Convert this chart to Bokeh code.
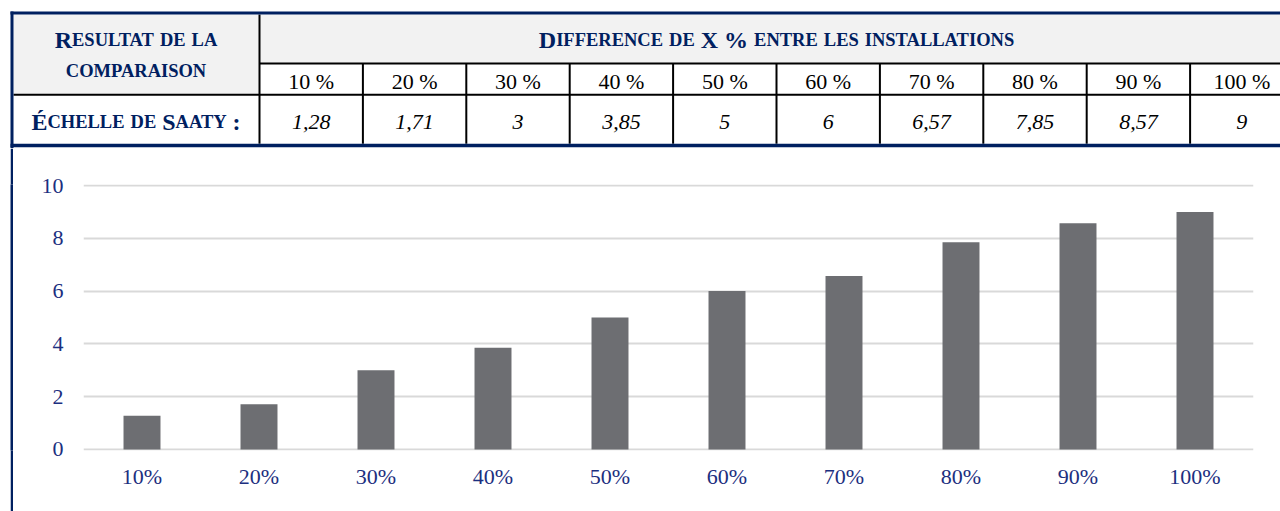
from bokeh.plotting import figure
from bokeh.models import ColumnDataSource, Range1d, FactorRange, FixedTicker, Spacer
from bokeh.layouts import column, row
from bokeh.embed import file_html
from bokeh.resources import INLINE
from bokeh.core.properties import value, field

# ---------------- data ----------------
left_header_lines = ["Resultat de la", "comparaison"]
top_header = "Difference de X % entre les installations"
row_label = "Échelle de Saaty :"
diff_labels = ["10 %", "20 %", "30 %", "40 %", "50 %", "60 %", "70 %", "80 %", "90 %", "100 %"]
saaty_values = [1.28, 1.71, 3, 3.85, 5, 6, 6.57, 7.85, 8.57, 9]
chart_categories = ["10%", "20%", "30%", "40%", "50%", "60%", "70%", "80%", "90%", "100%"]
y_ticks = [0, 2, 4, 6, 8, 10]

# ---------------- style ----------------
NAVY = "#002060"
LABEL = "#1c2f80"
HEAD_BG = "#f2f2f2"
BAR = "#6d6e72"
GRID = "#d9d9d9"
SERIF = "Liberation Serif"
TXT_SHIFT = 7.5   # empirical baseline correction

# Times Bold advance widths (per 1000 em) and the kerning pairs the browser applies
TB = {" ": 250, "%": 1000, ":": 333, "A": 722, "C": 722, "D": 722, "E": 667, "É": 667,
      "F": 611, "H": 778, "I": 389, "L": 667, "M": 944, "N": 722, "O": 778, "P": 611,
      "R": 722, "S": 556, "T": 667, "U": 722, "X": 722, "Y": 722}
KERN = {"AT": -74, "TA": -74, "LT": -92, "PA": -74}


def run_width(t, s):
    w = sum(TB.get(c, 600) for c in t)
    w += sum(KERN.get(t[i:i + 2], 0) for i in range(len(t) - 1))
    return w * s / 1000.0


def small_caps_runs(label, cx, base, big=24.0, small=18.5):
    runs = []
    for ch in label:
        sz = small if ch.islower() else big
        t = ch.upper()
        if runs and runs[-1][1] == sz:
            runs[-1][0] += t
        else:
            runs.append([t, sz])
    widths = [run_width(t, s) for t, s in runs]
    x = cx - sum(widths) / 2.0
    out = []
    for (t, s), w in zip(runs, widths):
        lead = len(t) - len(t.lstrip(" "))
        core = t.strip(" ")
        if core:
            out.append((x + lead * TB[" "] * s / 1000.0, base - TXT_SHIFT, core, "%.1fpx" % s))
        x += w
    return out


# ---------------- table layout (page pixel coordinates) ----------------
PX0, PX1 = 0, 1280
TY0, TY1 = 0, 148
BORDER_L = (10, 13)
BORDER_T = (11, 14)
BORDER_B = (143.3, 146.7)
COL1_R = 259
COLW = 103.4
ROW_A = 63.0
ROW_B = 94.3

n = len(diff_labels)
col_lefts = [COL1_R + i * COLW for i in range(n)]
col_centers = [c + COLW / 2 for c in col_lefts]

pA = figure(width=PX1 - PX0, height=TY1 - TY0, x_range=Range1d(PX0, PX1), y_range=Range1d(TY1, TY0),
            output_backend="svg", toolbar_location=None, x_axis_type=None, y_axis_type=None,
            min_border=0, outline_line_color=None)
pA.grid.visible = False

# grey header backgrounds
pA.quad(left=[BORDER_L[1], COL1_R], right=[COL1_R, PX1], top=[BORDER_T[1], BORDER_T[1]],
        bottom=[ROW_B, ROW_A], fill_color=HEAD_BG, line_color=None)

# black inner rules
seg_x0 = [COL1_R, COL1_R, BORDER_L[1]] + col_lefts[1:]
seg_x1 = [COL1_R, PX1, PX1] + col_lefts[1:]
seg_y0 = [BORDER_T[1], ROW_A, ROW_B] + [ROW_A] * (n - 1)
seg_y1 = [BORDER_B[0], ROW_A, ROW_B] + [BORDER_B[0]] * (n - 1)
pA.segment(x0=seg_x0, y0=seg_y0, x1=seg_x1, y1=seg_y1, line_color="black", line_width=2)

# navy outer borders
pA.quad(left=[BORDER_L[0], BORDER_L[0], BORDER_L[0]], right=[PX1, PX1, BORDER_L[1]],
        top=[BORDER_T[0], BORDER_B[0], BORDER_T[0]], bottom=[BORDER_T[1], BORDER_B[1], TY1],
        fill_color=NAVY, line_color=None)

# header texts (small caps emulation)
col1_cx = (BORDER_L[0] + COL1_R) / 2 + 1
runs = []
runs += small_caps_runs(left_header_lines[0], col1_cx, 46.5)
runs += small_caps_runs(left_header_lines[1], col1_cx, 77.5)
runs += small_caps_runs(row_label, col1_cx, 129.0)
runs += small_caps_runs(top_header, COL1_R + n * COLW / 2, 46.5)
hsrc = ColumnDataSource(dict(x=[r[0] for r in runs], y=[r[1] for r in runs],
                             text=[r[2] for r in runs], size=[r[3] for r in runs]))
pA.text(x="x", y="y", text="text", source=hsrc, text_font=value(SERIF), text_font_size=field("size"),
        text_font_style="bold", text_color=NAVY, text_align="left", text_baseline="alphabetic")

# percentage row
pA.text(x=col_centers, y=[88.3 - TXT_SHIFT] * n, text=diff_labels, text_font=value(SERIF),
        text_font_size="22px", text_color="black", text_align="center", text_baseline="alphabetic")

# Saaty values row (italic, comma decimal)
value_texts = [("%g" % v).replace(".", ",") for v in saaty_values]
pA.text(x=col_centers, y=[129.0 - TXT_SHIFT] * n, text=value_texts, text_font=value(SERIF),
        text_font_size="22px", text_font_style="italic", text_color="black", text_align="center",
        text_baseline="alphabetic")

# ---------------- left border strip beside chart ----------------
CH = 511 - TY1
gap = Spacer(width=BORDER_L[0] - PX0, height=CH)
strip = figure(width=BORDER_L[1] - BORDER_L[0], height=CH, x_range=Range1d(0, 1), y_range=Range1d(0, 1),
               output_backend="svg", toolbar_location=None, x_axis_type=None, y_axis_type=None,
               min_border=0, outline_line_color=None, border_fill_color=NAVY, background_fill_color=NAVY)
strip.grid.visible = False

# ---------------- bar chart ----------------
pB = figure(width=PX1 - BORDER_L[1], height=CH, x_range=FactorRange(*chart_categories),
            y_range=Range1d(-0.04, 10.04), output_backend="svg", toolbar_location=None,
            min_border_left=70, min_border_right=27, min_border_top=36, min_border_bottom=61,
            outline_line_color=None)
pB.vbar(x=chart_categories, top=saaty_values, width=0.316, fill_color=BAR, line_color=None)

pB.xgrid.visible = False
pB.ygrid.ticker = FixedTicker(ticks=y_ticks)
pB.ygrid.grid_line_color = GRID
pB.ygrid.grid_line_width = 2
pB.yaxis.ticker = FixedTicker(ticks=y_ticks)

for ax in (pB.xaxis, pB.yaxis):
    ax.axis_line_color = None
    ax.major_tick_line_color = None
    ax.minor_tick_line_color = None
    ax.major_label_text_font = SERIF
    ax.major_label_text_font_size = "22px"
    ax.major_label_text_color = LABEL
pB.yaxis.major_label_standoff = 14
pB.xaxis.major_label_standoff = 7

layout = column(pA, row(gap, strip, pB))

open("out.html", "w").write(file_html(layout, INLINE))
